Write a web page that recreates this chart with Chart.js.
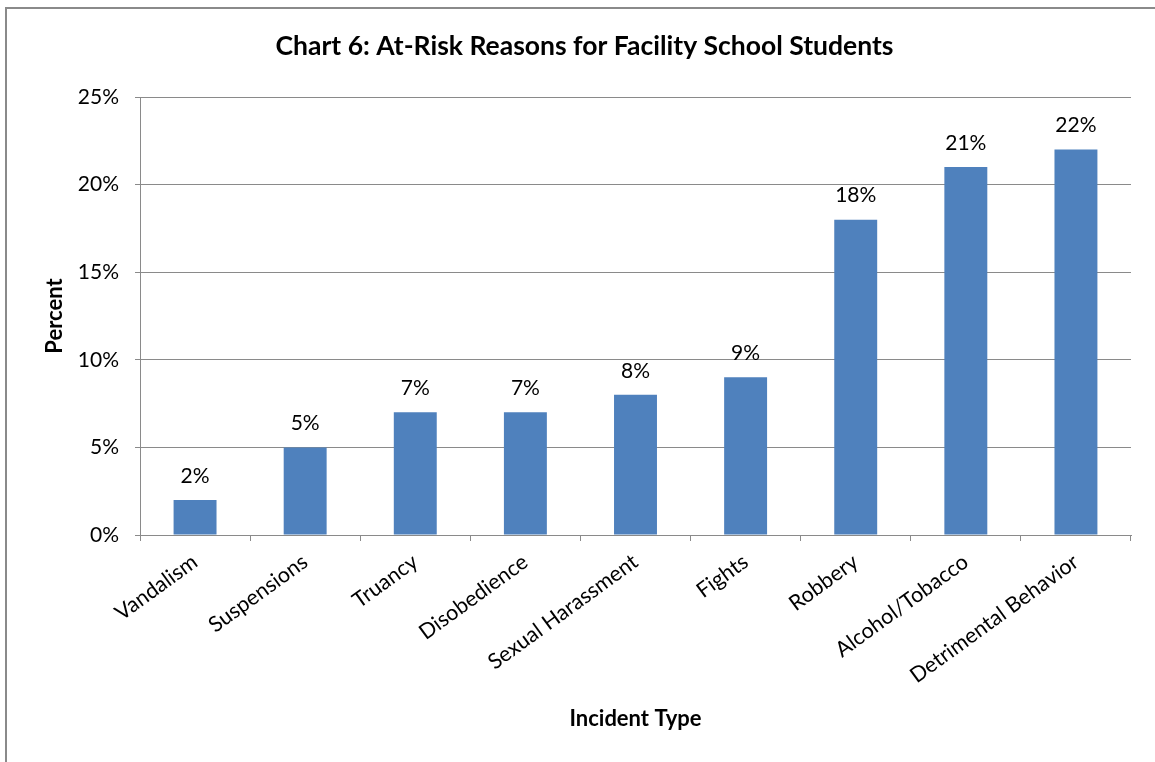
<!DOCTYPE html>
<html>
<head>
<meta charset="utf-8">
<script src="https://cdn.jsdelivr.net/npm/chart.js@4.4.1/dist/chart.umd.min.js"></script>
<style>
  html, body { margin: 0; padding: 0; background: #fff; overflow: hidden; }
  #frame {
    position: absolute; left: 5px; top: 7px;
    width: 1170px; height: 770px;
    border-left: 2px solid #8a8a8a; border-top: 2px solid #8a8a8a;
  }
  #wrap { position: absolute; left: 0; top: 0; width: 1155px; height: 753px; }
</style>
</head>
<body>
<div id="frame"><div id="wrap"><canvas id="c" width="1155" height="753"></canvas></div></div>
<script>
// Incident categories and their share of at-risk facility school students (%)
const categories = [
  'Vandalism', 'Suspensions', 'Truancy', 'Disobedience', 'Sexual Harassment',
  'Fights', 'Robbery', 'Alcohol/Tobacco', 'Detrimental Behavior'
];
const percents = [2, 5, 7, 7, 8, 9, 18, 21, 22];
const yTicks = [0, 5, 10, 15, 20, 25];

const FONT = "Lato, 'Open Sans', sans-serif";
const GRID = '#8a8a8a';

// Writes the value above each bar
const valueLabels = {
  id: 'valueLabels',
  afterDatasetsDraw(chart) {
    const ctx = chart.ctx;
    const meta = chart.getDatasetMeta(0);
    ctx.save();
    ctx.font = '21px ' + FONT;
    ctx.fillStyle = '#000';
    ctx.textAlign = 'center';
    ctx.textBaseline = 'middle';
    meta.data.forEach((bar, i) => {
      ctx.fillText(percents[i] + '%', bar.x, bar.y - 24);
    });
    ctx.restore();
  }
};

new Chart(document.getElementById('c'), {
  type: 'bar',
  data: {
    labels: categories,
    datasets: [{
      data: percents,
      backgroundColor: '#4F81BD',
      borderWidth: 0,
      barPercentage: 0.39,
      categoryPercentage: 1.0
    }]
  },
  options: {
    responsive: false,
    animation: false,
    layout: { padding: 0 },
    plugins: {
      legend: { display: false },
      tooltip: { enabled: false },
      title: {
        display: true,
        text: 'Chart 6: At-Risk Reasons for Facility School Students',
        color: '#000',
        font: { family: FONT, size: 26.5, weight: 'bold', lineHeight: 1.2 },
        padding: { top: 21.1, bottom: 35.1 }
      }
    },
    scales: {
      x: {
        grid: { drawOnChartArea: false, color: GRID, tickLength: 6, offset: true },
        border: { color: GRID, width: 1 },
        ticks: {
          color: '#000',
          font: { family: FONT, size: 21.5 },
          minRotation: 36, maxRotation: 36,
          padding: 8,
          autoSkip: false
        },
        title: {
          display: true,
          text: 'Incident Type',
          color: '#000',
          font: { family: FONT, size: 22, weight: 'bold', lineHeight: 1.2 },
          padding: { top: 0, bottom: 29.8 }
        },
        afterFit(scale) { scale.height = 227; }
      },
      y: {
        min: 0, max: 25,
        afterBuildTicks(scale) { scale.ticks = yTicks.map(v => ({ value: v })); },
        grid: { color: GRID, tickLength: 5 },
        border: { color: GRID, width: 1 },
        ticks: {
          color: '#000',
          font: { family: FONT, size: 21 },
          padding: 16,
          callback: v => v + '%'
        },
        title: {
          display: true,
          text: 'Percent',
          color: '#000',
          font: { family: FONT, size: 22, weight: 'bold', lineHeight: 1.2 },
          padding: { top: 34.8, bottom: 0 }
        },
        afterFit(scale) { scale.width = 133; }
      },
      yRight: {
        position: 'right',
        display: true,
        grid: { display: false },
        border: { display: false },
        ticks: { display: false },
        afterFit(scale) { scale.width = 31; }
      }
    }
  },
  plugins: [valueLabels]
});
</script>
</body>
</html>
